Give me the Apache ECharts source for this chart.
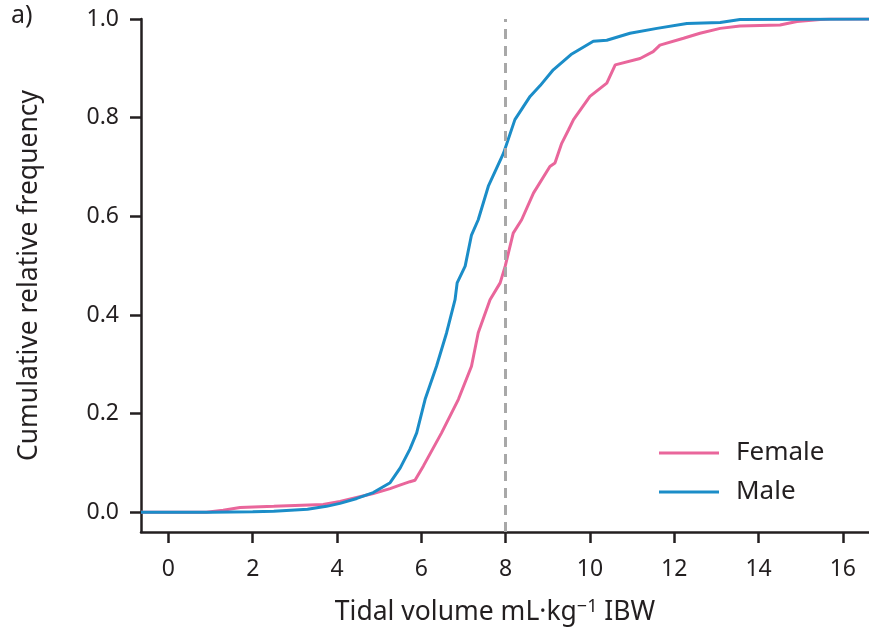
<!DOCTYPE html>
<html>
<head>
<meta charset="utf-8">
<script src="https://cdn.jsdelivr.net/npm/echarts@6/dist/echarts.min.js"></script>
<style>html,body{margin:0;padding:0;background:#fff;}#chart{width:869px;height:633px;}</style>
</head>
<body>
<div id="chart"></div>
<script>
// Data
const xTicks = [0, 2, 4, 6, 8, 10, 12, 14, 16];
const yTicks = [0, 0.2, 0.4, 0.6, 0.8, 1.0];
const refTV = 8;

const maleTV = [-0.65, 1.0, 2.0, 2.5, 3.3, 3.75, 4.07, 4.47, 4.86, 5.26, 5.5, 5.73, 5.89, 6.09, 6.36, 6.60, 6.80, 6.85, 7.04, 7.19, 7.35, 7.59, 7.95, 8.22, 8.58, 8.82, 9.13, 9.55, 10.08, 10.40, 10.95, 11.59, 12.30, 13.09, 13.56, 16.62];
const maleCF = [0, 0, 0.001, 0.002, 0.006, 0.012, 0.018, 0.028, 0.04, 0.06, 0.09, 0.128, 0.161, 0.229, 0.296, 0.364, 0.431, 0.465, 0.499, 0.562, 0.593, 0.661, 0.728, 0.796, 0.843, 0.865, 0.897, 0.928, 0.955, 0.957, 0.971, 0.981, 0.991, 0.993, 0.999, 1.0];

const femaleTV = [-0.65, 0.9, 1.3, 1.7, 2.5, 3.67, 4.07, 4.86, 5.26, 5.49, 5.73, 5.85, 6.05, 6.48, 6.88, 7.19, 7.35, 7.63, 7.87, 7.99, 8.18, 8.38, 8.66, 9.05, 9.17, 9.33, 9.49, 9.61, 10.0, 10.4, 10.6, 11.19, 11.5, 11.66, 12.22, 12.61, 13.09, 13.56, 14.51, 14.91, 15.46, 15.7, 16.62];
const femaleCF = [0, 0, 0.004, 0.0095, 0.012, 0.016, 0.022, 0.038, 0.048, 0.055, 0.062, 0.065, 0.094, 0.161, 0.229, 0.296, 0.364, 0.431, 0.465, 0.499, 0.566, 0.593, 0.647, 0.701, 0.708, 0.748, 0.775, 0.796, 0.843, 0.870, 0.907, 0.920, 0.934, 0.947, 0.961, 0.971, 0.981, 0.986, 0.988, 0.995, 0.999, 1.0, 1.0];

const zip = (a, b) => a.map((v, i) => [v, b[i]]);
const FONT = '"Noto Sans", sans-serif';
const INK = '#231f20';

const chart = echarts.init(document.getElementById('chart'), null, {renderer: 'canvas'});
chart.setOption({
  animation: false,
  backgroundColor: '#ffffff',
  grid: {left: 141, right: 0, top: 19, bottom: 101, containLabel: false},
  graphic: [{
    type: 'text', left: 11, top: 3,
    style: {text: 'a)', font: '25px ' + FONT, fill: INK}
  }],
  legend: {
    orient: 'vertical', left: 659, top: 440, padding: 0,
    itemWidth: 60, itemHeight: 3, itemGap: 13, icon: 'rect',
    textStyle: {fontFamily: FONT, fontSize: 26, color: INK, lineHeight: 20, padding: [0, 0, 0, 12]},
    data: ['Female', 'Male']
  },
  xAxis: {
    type: 'value', min: -0.65, max: 16.62,
    splitLine: {show: false},
    axisLine: {onZero: false, lineStyle: {color: INK, width: 2.5}},
    axisTick: {show: true, length: 11, lineStyle: {color: INK, width: 2.5}, customValues: xTicks},
    axisLabel: {customValues: xTicks, margin: 26, fontFamily: FONT, fontSize: 23, color: INK},
    name: 'Tidal volume mL·kg{sup|−1} IBW',
    nameLocation: 'middle', nameGap: 66,
    nameTextStyle: {
      fontFamily: FONT, fontSize: 26.5, color: INK, padding: [0, 20, 0, 0],
      rich: {sup: {fontFamily: FONT, fontSize: 18, color: INK, padding: [0, 0, 10, 0]}}
    }
  },
  yAxis: {
    type: 'value', min: -0.04, max: 1.0,
    splitLine: {show: false},
    axisLine: {onZero: false, lineStyle: {color: INK, width: 2.5}},
    axisTick: {show: true, length: 11, lineStyle: {color: INK, width: 2.5}, customValues: yTicks},
    axisLabel: {customValues: yTicks, margin: 22, fontFamily: FONT, fontSize: 23, color: INK,
      formatter: v => v.toFixed(1)},
    name: 'Cumulative relative frequency',
    nameLocation: 'middle', nameGap: 98,
    nameTextStyle: {fontFamily: FONT, fontSize: 26.5, color: INK}
  },
  series: [
    {
      name: 'Female', type: 'line', symbol: 'none', smooth: false,
      lineStyle: {color: '#e9669b', width: 3},
      itemStyle: {color: '#e9669b'},
      data: zip(femaleTV, femaleCF),
      z: 3
    },
    {
      name: 'Male', type: 'line', symbol: 'none', smooth: false,
      lineStyle: {color: '#1b8dc8', width: 3},
      itemStyle: {color: '#1b8dc8'},
      data: zip(maleTV, maleCF),
      z: 4,
      markLine: {
        silent: true, symbol: 'none', animation: false,
        label: {show: false},
        lineStyle: {color: '#a8a8a8', type: [10, 7], width: 3},
        data: [[{coord: [refTV, -0.04]}, {coord: [refTV, 1.0]}]]
      }
    }
  ]
});
</script>
</body>
</html>
